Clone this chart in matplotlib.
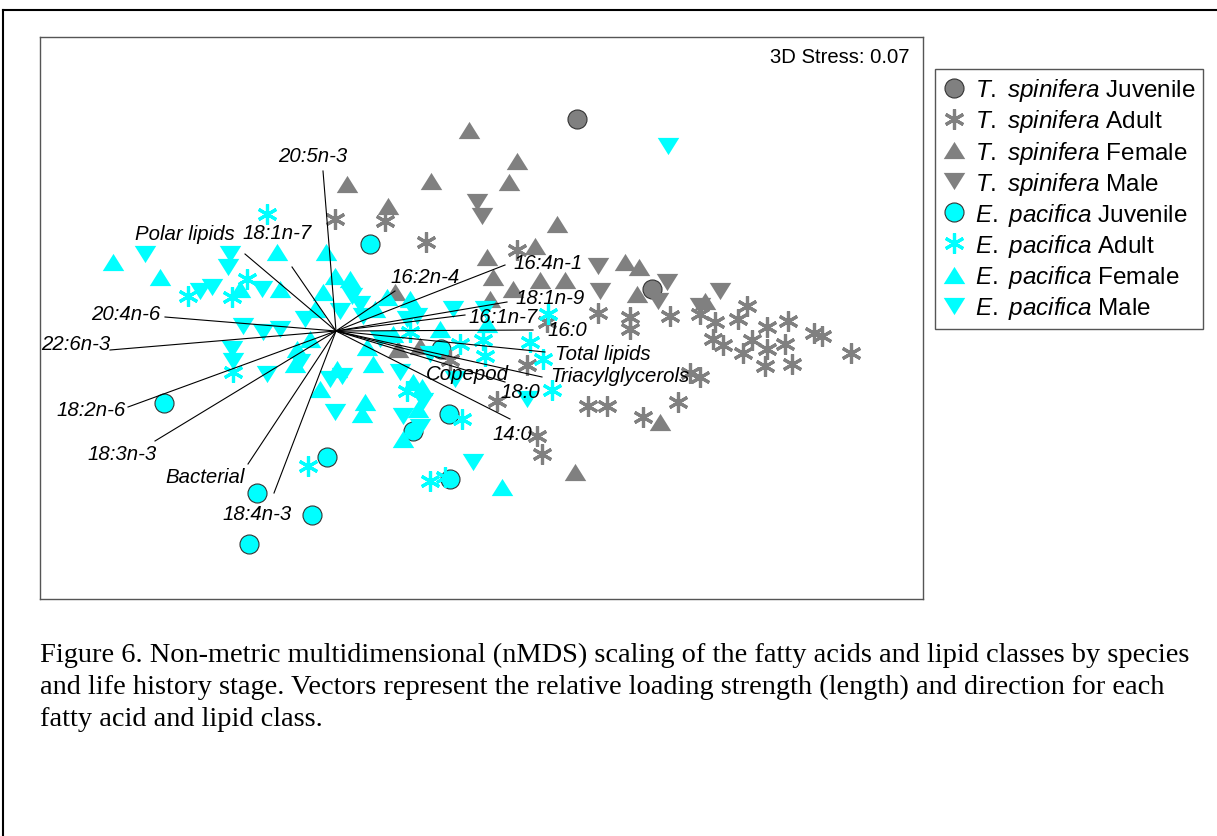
import matplotlib
matplotlib.use('Agg')
import matplotlib.pyplot as plt
from matplotlib.lines import Line2D

plt.rcParams['font.family'] = 'Liberation Sans'
plt.rcParams['mathtext.fontset'] = 'custom'
plt.rcParams['mathtext.rm'] = 'Liberation Sans'
plt.rcParams['mathtext.it'] = 'Liberation Sans:italic'

# nMDS scores (axis 1, axis 2) per group
ts_juv_x = [2.41, 3.16]
ts_juv_y = [2.12, 0.42]

ts_adult_x = [-0.01, 0.49, 0.90, 1.81, 1.14, 1.91, 1.61, 2.01, 2.06, 2.11, 2.62, 2.94, 2.94, 3.34,
              3.64, 4.11, 3.79, 4.02, 4.31, 4.52, 3.77, 3.87, 4.07, 4.16, 4.31, 4.29, 4.56, 4.49,
              4.78, 4.86, 5.15, 3.54, 3.64, 3.42, 3.07, 2.71, 2.52]
ts_adult_y = [1.12, 1.10, 0.89, 0.81, -0.29, -0.34, -0.70, -1.05, -1.23, 0.09, 0.18, 0.14, 0.02, 0.15,
              0.17, 0.25, 0.09, 0.12, 0.04, 0.10, -0.08, -0.14, -0.22, -0.09, -0.18, -0.35, -0.33, -0.13,
              -0.02, -0.05, -0.22, -0.42, -0.46, -0.71, -0.86, -0.75, -0.75]

ts_female_x = [1.33, 1.81, 0.95, 1.73, 0.11, 0.52, 2.21, 1.51, 1.99, 1.57, 2.04, 2.29, 1.54, 1.77,
               2.89, 3.03, 3.01, 3.69, 3.24, 2.39, 0.59, 0.62, 0.84]
ts_female_y = [2.01, 1.70, 1.50, 1.49, 1.47, 1.25, 1.07, 0.74, 0.85, 0.54, 0.51, 0.51, 0.32, 0.42,
               0.69, 0.64, 0.37, 0.30, -0.91, -1.41, 0.39, -0.18, -0.15]

ts_male_x = [1.41, 1.46, 2.62, 2.64, 3.31, 3.22, 3.64, 3.84]
ts_male_y = [1.29, 1.15, 0.65, 0.40, 0.49, 0.30, 0.25, 0.40]

ep_juv_x = [0.34, 1.05, -1.72, 1.13, 0.77, -0.09, 1.14, -0.79, -0.24, -0.87]
ep_juv_y = [0.87, -0.18, -0.72, -0.83, -1.00, -1.26, -1.48, -1.62, -1.84, -2.13]

ep_adult_x = [-0.69, -1.48, -1.04, -0.89, -1.03, -0.28, 0.71, 1.26, 1.24, 1.47, 1.49, 1.94, 2.07,
              2.16, 0.94, 1.09, 2.12, 0.74]
ep_adult_y = [1.17, 0.35, 0.34, 0.52, -0.41, -1.35, -0.60, -0.88, -0.13, -0.09, -0.25, -0.11, -0.28,
              -0.59, -1.50, -1.46, 0.17, -0.01]

ep_female_x = [-2.23, -1.76, -0.59, -0.10, -0.01, -0.13, -0.56, 0.39, 0.51, -0.39, -0.41, 0.31, 0.37,
               0.01, 0.29, 0.77, 0.82, 0.67, 0.86, 1.66, 0.26, 1.51, -0.96, -0.21, 0.14, 0.74, 0.57,
               -0.16, -0.26, 1.04]
ep_female_y = [0.69, 0.54, 0.79, 0.79, 0.55, 0.39, 0.42, 0.22, 0.34, -0.18, -0.33, -0.16, -0.33,
               -0.38, -0.71, -0.51, -0.78, -1.08, -0.56, -1.56, -0.83, 0.07, 0.42, 0.22, 0.52, 0.32, -0.03,
               -0.58, -0.08, 0.02]

ep_male_x = [-1.91, -1.06, -1.08, -1.24, -0.74, -1.36, -0.93, -0.73, -1.04, -0.69, -0.31, 0.16, 0.24,
             0.04, 0.27, 0.71, -0.36, 0.06, -0.01, 0.64, 0.67, 0.84, 0.87, 1.37, 1.91, 3.32, 1.17, 0.81,
             -0.06, -1.03, -0.56, 0.44, 1.19, 0.94, 1.49]
ep_male_y = [0.77, 0.77, 0.64, 0.44, 0.42, 0.40, 0.05, -0.01, -0.18, -0.43, 0.12, 0.35, 0.27,
             0.20, 0.15, 0.12, -0.31, -0.45, -0.81, -0.41, -0.85, -0.96, -0.70, -1.31, -0.68, 1.85, 0.22, 0.15,
             -0.48, -0.30, 0.02, -0.08, -0.48, -0.23, 0.22]

# fatty acid / lipid class vectors
vec_names = ['20:5n-3', 'Polar lipids', '18:1n-7', '16:2n-4', '16:4n-1', '18:1n-9', '16:1n-7', '16:0',
             'Total lipids', 'Triacylglycerols', 'Copepod', '18:0', '14:0', '20:4n-6', '22:6n-3',
             '18:2n-6', '18:3n-3', 'Bacterial', '18:4n-3']
vec_x = [-0.13, -0.91, -0.44, 0.59, 1.69, 1.71, 1.29, 1.97, 2.09, 2.06, 1.09, 1.69, 1.74, -1.71, -2.26,
         -2.08, -1.81, -0.88, -0.62]
vec_y = [1.60, 0.77, 0.64, 0.40, 0.66, 0.29, 0.16, 0.01, -0.21, -0.46, -0.28, -0.51, -0.88, 0.14, -0.19,
         -0.76, -1.10, -1.33, -1.62]

# label alignment and pixel offset from the vector tip
label_place = {
    '20:5n-3': ('center', -10, 15), 'Polar lipids': ('right', -10, 20), '18:1n-7': ('center', -15, 34),
    '16:2n-4': ('left', -5, 14), '16:4n-1': ('left', 8, 2), '18:1n-9': ('left', 8, 4),
    '16:1n-7': ('left', 3, -2), '16:0': ('left', 14, 0), 'Total lipids': ('left', 10, -2),
    'Triacylglycerols': ('left', 8, 1), 'Copepod': ('center', 22, -15), '18:0': ('left', -5, -10),
    '14:0': ('center', 2, -15), '20:4n-6': ('right', -5, 3), '22:6n-3': ('right', 0, 6),
    '18:2n-6': ('right', -2, -3), '18:3n-3': ('right', 2, -13), 'Bacterial': ('right', -3, -13),
    '18:4n-3': ('right', 18, -21),
}

gray = '#808080'
cyan = '#00ffff'
tri_up = [(-1, -0.8), (1, -0.8), (0, 0.8), (-1, -0.8)]
tri_down = [(-1, 0.8), (1, 0.8), (0, -0.8), (-1, 0.8)]
star = (6, 2, 0)

fig = plt.figure(figsize=(12.17, 8.37), dpi=100)
ax = fig.add_axes([40 / 1217, 1 - 600 / 837, 883 / 1217, 562 / 837])

def circles(x, y, c, label):
    return ax.plot(x, y, ls='none', marker='o', ms=13.7, mfc=c, mec='#333333', mew=0.8, label=label, zorder=2)[0]

def stars(x, y, c, label):
    return ax.plot(x, y, ls='none', marker=star, ms=14.5, mec=c, mew=2.3, label=label, zorder=3)[0]

def tris(x, y, verts, c, label):
    return ax.plot(x, y, ls='none', marker=verts, ms=15.5, mfc=c, mec='none', label=label, zorder=4)[0]

ts = r'$\mathit{T.}$ $\mathit{spinifera}$'
ep = r'$\mathit{E.}$ $\mathit{pacifica}$'
h1 = circles(ts_juv_x, ts_juv_y, gray, ts + ' Juvenile')
h5 = circles(ep_juv_x, ep_juv_y, cyan, ep + ' Juvenile')
h2 = stars(ts_adult_x, ts_adult_y, gray, ts + ' Adult')
h6 = stars(ep_adult_x, ep_adult_y, cyan, ep + ' Adult')
h3 = tris(ts_female_x, ts_female_y, tri_up, gray, ts + ' Female')
h4 = tris(ts_male_x, ts_male_y, tri_down, gray, ts + ' Male')
h7 = tris(ep_female_x, ep_female_y, tri_up, cyan, ep + ' Female')
h8 = tris(ep_male_x, ep_male_y, tri_down, cyan, ep + ' Male')

for name, vx, vy in zip(vec_names, vec_x, vec_y):
    ax.plot([0, vx], [0, vy], color='black', lw=0.8, zorder=6)
    ha, dx, dy = label_place[name]
    ax.annotate(name, (vx, vy), xytext=(dx, dy), textcoords='offset pixels', ha=ha, va='center',
                fontsize=14.7, style='italic', zorder=7)

ax.text(0.985, 0.966, '3D Stress: 0.07', transform=ax.transAxes, ha='right', va='center', fontsize=14.6)

ax.set_xlim(-2.96, 5.87)
ax.set_ylim(-2.68, 2.94)
ax.set_xticks([])
ax.set_yticks([])
for sp in ax.spines.values():
    sp.set_color('#555555')
    sp.set_linewidth(1.0)

leg = fig.legend(handles=[h1, h2, h3, h4, h5, h6, h7, h8], loc='upper left',
                 bbox_to_anchor=(935 / 1217, 1 - 70 / 837), fontsize=17.5, frameon=True,
                 fancybox=False, edgecolor='#555555', framealpha=1, borderpad=0.3,
                 labelspacing=0.17, handlelength=1.0, handletextpad=0.35, borderaxespad=0)
leg.get_frame().set_linewidth(1.0)

caption = ['Figure 6. Non-metric multidimensional (nMDS) scaling of the fatty acids and lipid classes by species',
           'and life history stage. Vectors represent the relative loading strength (length) and direction for each',
           'fatty acid and lipid class.']
for i, line in enumerate(caption):
    fig.text(40 / 1217, 1 - (655 + 32.5 * i) / 837, line, family='Liberation Serif', fontsize=20.4,
             ha='left', va='center')

# page border
fig.add_artist(Line2D([3 / 1217, 1], [1 - 11 / 837, 1 - 11 / 837], color='black', lw=1.5))
fig.add_artist(Line2D([3 / 1217, 3 / 1217], [0, 1 - 11 / 837], color='black', lw=1.5))

fig.savefig('out.png', dpi=100)
